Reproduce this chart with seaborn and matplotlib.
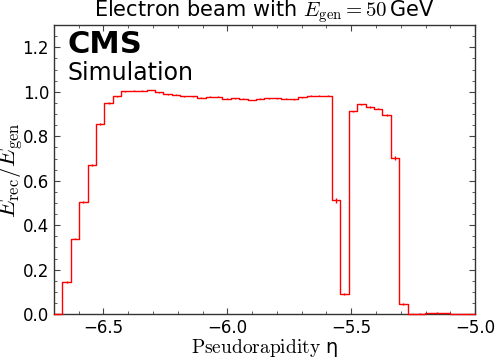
import numpy as np
import pandas as pd
import matplotlib
matplotlib.use("Agg")
import matplotlib.pyplot as plt
from matplotlib.ticker import MultipleLocator
import seaborn as sns

# Binning: 50 bins between -6.7 and -5.0
eta_min = -6.7
eta_max = -5.0
n_bins = 50

# Mean E_rec/E_gen per eta bin
response = [
    0.000, 0.145, 0.340, 0.506, 0.670, 0.854, 0.950, 0.980, 1.002, 1.004,
    1.005, 1.008, 0.998, 0.989, 0.986, 0.980, 0.980, 0.974, 0.978, 0.977,
    0.969, 0.971, 0.968, 0.963, 0.968, 0.971, 0.971, 0.968, 0.966, 0.975,
    0.983, 0.983, 0.983, 0.512, 0.090, 0.912, 0.944, 0.932, 0.924, 0.897,
    0.703, 0.045, 0.000, 0.002, 0.005, 0.007, 0.004, 0.001, 0.000, 0.000,
]
# statistical uncertainty per bin
response_err = [
    0.000, 0.004, 0.004, 0.004, 0.004, 0.004, 0.003, 0.003, 0.002, 0.002,
    0.002, 0.002, 0.002, 0.002, 0.002, 0.002, 0.002, 0.002, 0.002, 0.002,
    0.002, 0.002, 0.002, 0.002, 0.002, 0.002, 0.002, 0.002, 0.002, 0.002,
    0.002, 0.002, 0.002, 0.010, 0.004, 0.003, 0.003, 0.003, 0.003, 0.004,
    0.008, 0.003, 0.000, 0.001, 0.001, 0.001, 0.001, 0.000, 0.000, 0.000,
]

edges = np.linspace(eta_min, eta_max, n_bins + 1)
centers = 0.5 * (edges[:-1] + edges[1:])
df = pd.DataFrame({"eta": centers, "resp": response, "err": response_err})

sns.set_style("ticks")
plt.rcParams["mathtext.fontset"] = "cm"
plt.rcParams["font.family"] = ["DejaVu Sans"]
plt.rcParams["text.color"] = "black"
plt.rcParams["axes.labelcolor"] = "black"
plt.rcParams["xtick.labelcolor"] = "black"
plt.rcParams["ytick.labelcolor"] = "black"

fig = plt.figure(figsize=(4.99, 3.59), dpi=100)
ax = fig.add_axes([0.108, 0.125, 0.844, 0.805])

sns.histplot(data=df, x="eta", weights="resp", bins=n_bins,
             binrange=(eta_min, eta_max), element="step",
             fill=False, color="red", linewidth=1.0, ax=ax)
ax.errorbar(df["eta"], df["resp"], yerr=df["err"], fmt="none",
            ecolor="red", elinewidth=1.0, capsize=0)
# keep the red outline on top of the spines (visible along y = 0)
for art in ax.lines + ax.collections:
    art.set_zorder(3)
    art.set_clip_on(False)

ax.set_xlim(eta_min, eta_max)
ax.set_ylim(0, 1.3)
ax.xaxis.set_major_locator(MultipleLocator(0.5))
ax.xaxis.set_minor_locator(MultipleLocator(0.1))
ax.yaxis.set_major_locator(MultipleLocator(0.2))
ax.yaxis.set_minor_locator(MultipleLocator(0.05))
ax.tick_params(which="both", top=True, right=True, direction="in",
               labelsize=12, color="#444444")
ax.tick_params(which="major", length=4, width=0.8)
ax.tick_params(which="minor", length=2, width=0.6)
for sp in ax.spines.values():
    sp.set_color("#333333")
    sp.set_linewidth(1.0)

ax.set_title(r"Electron beam with $E_\mathrm{gen} = 50\,$GeV", fontsize=15, pad=1)
ax.set_xlabel(r"$\mathrm{Pseudorapidity}$ η", fontsize=14, labelpad=0)
ax.set_ylabel(r"$E_\mathrm{rec}/E_\mathrm{gen}$", fontsize=17)
ax.yaxis.set_label_coords(-0.072, 0.5)

ax.text(0.033, 0.903, "CMS", transform=ax.transAxes, fontsize=22,
        fontweight="bold", va="baseline")
ax.text(0.033, 0.81, "Simulation", transform=ax.transAxes, fontsize=17,
        va="baseline")

fig.savefig("out.png", dpi=100)
